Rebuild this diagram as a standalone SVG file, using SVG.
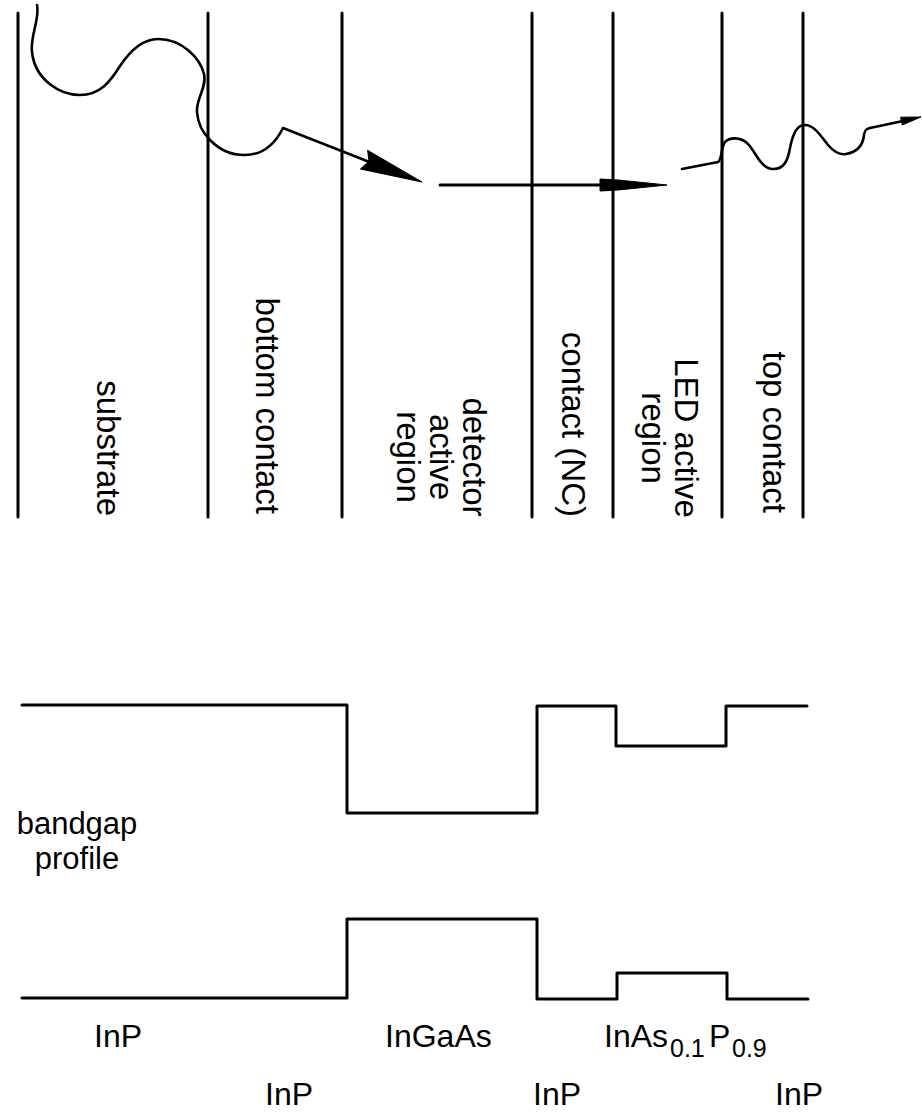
<svg xmlns="http://www.w3.org/2000/svg" width="922" height="1114" viewBox="0 0 922 1114">
<style>
.ln{stroke:#000;stroke-width:3;fill:none;stroke-linecap:round;stroke-linejoin:round}
.wv{stroke:#000;stroke-width:2.6;fill:none;stroke-linecap:round;stroke-linejoin:round}
.ah{fill:#000;stroke:#000;stroke-width:1;stroke-linejoin:round}
text{font-family:"Liberation Sans",Arial,Helvetica,sans-serif;fill:#000}
.lb{font-size:33px}
.bg{font-size:31px}
.bt{font-size:32px}
.sb{font-size:25px}
</style>
<rect width="922" height="1114" fill="#fff"/>
<g id="layers">
<line class="ln" x1="18" y1="13" x2="18" y2="517"/>
<line class="ln" x1="208" y1="13" x2="208" y2="517"/>
<line class="ln" x1="342" y1="13" x2="342" y2="517"/>
<line class="ln" x1="532" y1="13" x2="532" y2="517"/>
<line class="ln" x1="613" y1="13" x2="613" y2="517"/>
<line class="ln" x1="722" y1="13" x2="722" y2="517"/>
<line class="ln" x1="803" y1="13" x2="803" y2="517"/>
</g>
<g id="label-substrate"><text class="lb" transform="translate(97,516) rotate(90)" text-anchor="end">substrate</text></g>
<g id="label-bottom-contact"><text class="lb" transform="translate(256,514) rotate(90)" text-anchor="end">bottom contact</text></g>
<g id="label-detector">
<text class="lb" transform="translate(463,457) rotate(90)" text-anchor="middle">detector</text>
<text class="lb" transform="translate(430,457) rotate(90)" text-anchor="middle">active</text>
<text class="lb" transform="translate(397,457) rotate(90)" text-anchor="middle">region</text>
</g>
<g id="label-contact-nc"><text class="lb" transform="translate(562,517) rotate(90)" text-anchor="end">contact (NC)</text></g>
<g id="label-led">
<text class="lb" transform="translate(675,438) rotate(90)" text-anchor="middle">LED active</text>
<text class="lb" transform="translate(642,438) rotate(90)" text-anchor="middle">region</text>
</g>
<g id="label-top-contact"><text class="lb" transform="translate(763,513) rotate(90)" text-anchor="end">top contact</text></g>
<g id="connectors">
<path class="wv" d="M37,5 C40,20 30,35 32,52 C35,80 60,95 80,95 C100,95 110,82 120,66 C132,48 145,39 158,39 C182,39 200,58 204,74 C207,88 196,98 197,112 C198,125 204,134 210,140 C220,150 230,155 245,155 C265,155 276,142 283,128 L372,163"/>
<polygon class="ah" points="422,182 367.6,150.3 369,161 360.4,169"/>
<line class="ln" x1="440" y1="185" x2="605" y2="185"/>
<polygon class="ah" points="667,185 618,180 600,179 600,191 618,190"/>
<path class="wv" d="M682,169 L718,162 C722,160 721,147 725,142 C730,137 740,137 747,143 C755,150 760,168 772,169 C784,170 788,160 790,148 C793,133 797,125 805,125 C815,125 822,138 828,145 C834,152 840,155 846,154 C858,152 863,145 864,135 C865,130 866,129 870,128 L903,121"/>
<polygon class="ah" points="921,117 900.6,117.2 902.2,125"/>
</g>
<g id="bandgap-profile">
<path class="ln" d="M22,705 L347,705 L347,813 L537,813 L537,706 L616,706 L616,746 L726,746 L726,706 L807,706"/>
<path class="ln" d="M22,998 L347,998 L347,919 L537,919 L537,999 L617,999 L617,973 L727,973 L727,999 L808,999"/>
</g>
<g id="label-bandgap">
<text class="bg" x="77" y="834" text-anchor="middle">bandgap</text>
<text class="bg" x="77" y="869" text-anchor="middle">profile</text>
</g>
<g id="materials">
<text class="bt" x="94" y="1047">InP</text>
<text class="bt" x="385" y="1047">InGaAs</text>
<text class="bt" x="604" y="1047">InAs<tspan class="sb" x="670" y="1057">0.1</tspan><tspan x="709" y="1047">P</tspan><tspan class="sb" x="732" y="1057">0.9</tspan></text>
<text class="bt" x="265" y="1105">InP</text>
<text class="bt" x="533" y="1105">InP</text>
<text class="bt" x="775" y="1105">InP</text>
</g>
</svg>
